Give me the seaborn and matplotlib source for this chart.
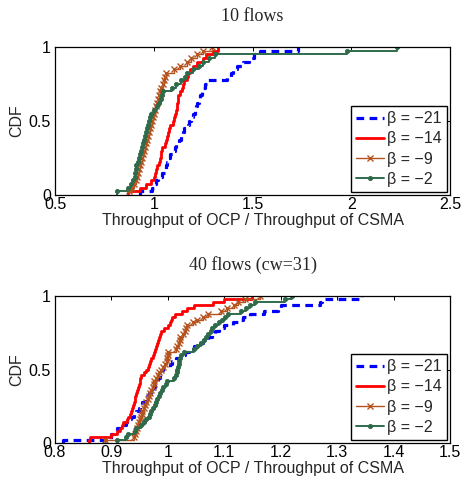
import numpy as np
import pandas as pd
import matplotlib
matplotlib.use("Agg")
import matplotlib.pyplot as plt
import seaborn as sns

# ---- throughput ratios (OCP / CSMA), one sample per run ----
labels = ["β = −21", "β = −14", "β = −9", "β = −2"]

flows10_b21 = [0.93, 0.99, 1.0, 1.01, 1.02, 1.04, 1.056, 1.06, 1.066, 1.074,
               1.082, 1.10, 1.11, 1.115, 1.128, 1.14, 1.146, 1.155, 1.172, 1.18,
               1.19, 1.198, 1.207, 1.213, 1.218, 1.228, 1.235, 1.242, 1.25, 1.257,
               1.27, 1.37, 1.39, 1.40, 1.42, 1.45, 1.48, 1.51, 1.54, 1.73]
flows10_b14 = [0.87, 0.93, 0.96, 0.985, 1.0, 1.008, 1.012, 1.015, 1.025, 1.031,
               1.036, 1.038, 1.04, 1.058, 1.062, 1.065, 1.07, 1.078, 1.083, 1.095,
               1.10, 1.106, 1.112, 1.118, 1.12, 1.122, 1.125, 1.132, 1.142, 1.148,
               1.155, 1.166, 1.175, 1.183, 1.20, 1.22, 1.25, 1.265, 1.30, 1.327]
flows10_b9 = [0.875, 0.89, 0.90, 0.91, 0.917, 0.922, 0.927, 0.932, 0.937, 0.942,
              0.947, 0.952, 0.957, 0.962, 0.966, 0.971, 0.976, 0.981, 0.986, 0.991,
              0.996, 1.001, 1.006, 1.01, 1.015, 1.02, 1.025, 1.03, 1.037, 1.045,
              1.052, 1.058, 1.064, 1.10, 1.135, 1.17, 1.19, 1.22, 1.25, 1.295]
flows10_b2 = [0.814, 0.869, 0.886, 0.895, 0.903, 0.907, 0.91, 0.912, 0.92, 0.927,
              0.932, 0.936, 0.94, 0.946, 0.95, 0.954, 0.96, 0.965, 0.97, 0.977,
              0.982, 0.988, 1.003, 1.018, 1.028, 1.036, 1.042, 1.047, 1.09, 1.115,
              1.138, 1.158, 1.17, 1.20, 1.23, 1.25, 1.28, 1.31, 1.976, 2.23]

flows40_b21 = [0.815, 0.90, 0.90, 0.905, 0.91, 0.92, 0.925, 0.928, 0.934, 0.94,
               0.943, 0.948, 0.951, 0.955, 0.959, 0.963, 0.967, 0.971, 0.975, 0.978,
               0.98, 0.983, 0.986, 0.988, 0.99, 0.992, 1.003, 1.008, 1.015, 1.022,
               1.03, 1.038, 1.046, 1.053, 1.062, 1.072, 1.078, 1.084, 1.09, 1.10,
               1.115, 1.125, 1.134, 1.146, 1.17, 1.195, 1.20, 1.27, 1.273, 1.344]
flows40_b14 = [0.861, 0.862, 0.90, 0.91, 0.915, 0.918, 0.921, 0.927, 0.93, 0.933,
               0.935, 0.936, 0.938, 0.94, 0.941, 0.942, 0.944, 0.945, 0.947, 0.949,
               0.95, 0.951, 0.953, 0.957, 0.961, 0.964, 0.966, 0.968, 0.971, 0.973,
               0.975, 0.977, 0.979, 0.981, 0.983, 0.985, 0.986, 0.988, 0.993, 1.001,
               1.004, 1.006, 1.008, 1.013, 1.025, 1.034, 1.046, 1.08, 1.10, 1.149]
flows40_b9 = [0.889, 0.94, 0.942, 0.944, 0.946, 0.947, 0.948, 0.95, 0.952, 0.954,
              0.955, 0.957, 0.959, 0.961, 0.964, 0.966, 0.969, 0.971, 0.973, 0.975,
              0.976, 0.979, 0.982, 0.985, 0.988, 0.992, 0.995, 0.998, 0.999, 1.0,
              1.001, 1.014, 1.017, 1.019, 1.021, 1.022, 1.027, 1.03, 1.032, 1.034,
              1.045, 1.051, 1.063, 1.072, 1.094, 1.104, 1.117, 1.125, 1.137, 1.164]
flows40_b2 = [0.909, 0.926, 0.93, 0.942, 0.944, 0.952, 0.957, 0.962, 0.966, 0.969,
              0.971, 0.974, 0.977, 0.979, 0.981, 0.984, 0.986, 0.989, 0.992, 0.996,
              0.998, 1.011, 1.014, 1.016, 1.017, 1.018, 1.019, 1.02, 1.021, 1.024,
              1.029, 1.046, 1.052, 1.058, 1.064, 1.068, 1.072, 1.076, 1.079, 1.084,
              1.09, 1.096, 1.101, 1.107, 1.13, 1.138, 1.145, 1.155, 1.208, 1.22]

titles = ["10 flows", "40 flows (cw=31)"]
xlabel = "Throughput of OCP / Throughput of CSMA"
ylabel = "CDF"
top_xticks = [0.5, 1, 1.5, 2, 2.5]
top_xticklabels = ["0.5", "1", "1.5", "2", "2.5"]
bot_xticks = [0.8, 0.9, 1.0, 1.1, 1.2, 1.3, 1.4, 1.5]
bot_xticklabels = ["0.8", "0.9", "1", "1.1", "1.2", "1.3", "1.4", "1.5"]
yticks = [0, 0.5, 1]
yticklabels = ["0", "0.5", "1"]

# ---- styling ----
sns.set_style("white")
plt.rcParams["font.family"] = ["Liberation Sans", "DejaVu Sans"]

styles = [
    dict(color="#0000FF", lw=2.3, ls=(0, (2.4, 1.7)), marker=None),
    dict(color="#FF0000", lw=2.0, ls="-", marker=None),
    dict(color="#B5531F", lw=1.0, ls="-", marker="x", ms=4.0, mew=1.0),
    dict(color="#2F6B4B", lw=1.4, ls="-", marker="o", ms=3.0, mew=0.6),
]

fig = plt.figure(figsize=(4.61, 4.82), dpi=100)
ax_top = fig.add_axes([55 / 461, 1 - 195 / 482, 395 / 461, 148 / 482])
ax_bot = fig.add_axes([55 / 461, 1 - 443 / 482, 395 / 461, 147 / 482])

panels = [
    (ax_top, [flows10_b21, flows10_b14, flows10_b9, flows10_b2],
     (0.5, 2.5), top_xticks, top_xticklabels, titles[0]),
    (ax_bot, [flows40_b21, flows40_b14, flows40_b9, flows40_b2],
     (0.8, 1.5), bot_xticks, bot_xticklabels, titles[1]),
]

for ax, series, xlim, xt, xtl, title in panels:
    for vals, lab, st in zip(series, labels, styles):
        kw = dict(color=st["color"], lw=st["lw"], ls=st["ls"], label=lab)
        if st["marker"]:
            kw.update(marker=st["marker"], ms=st["ms"], mew=st["mew"])
        sns.ecdfplot(x=np.array(vals), ax=ax, **kw)
    ax.set_xlim(*xlim)
    ax.set_ylim(0, 1)
    ax.set_xticks(xt)
    ax.set_xticklabels(xtl)
    ax.set_yticks(yticks)
    ax.set_yticklabels(yticklabels)
    ax.tick_params(direction="in", length=3, width=0.7, top=True, right=True,
                   labelsize=11.5, pad=1.5, colors="black")
    ax.tick_params(axis="y", pad=3)
    for sp in ax.spines.values():
        sp.set_visible(True)
        sp.set_color("black")
        sp.set_linewidth(0.9)
        sp.set_zorder(3)
    ax.set_xlabel(xlabel, fontsize=11.5, labelpad=0.5)
    ax.set_ylabel(ylabel, fontsize=11.5, labelpad=3)
    ax.set_title(title, fontsize=13, family=["Liberation Serif", "DejaVu Serif"], pad=19)
    leg = ax.legend(loc="lower right", fontsize=11.5, frameon=True, fancybox=False,
                    edgecolor="black", framealpha=1, borderaxespad=0.2,
                    handlelength=1.75, handletextpad=0.2, labelspacing=0.33,
                    borderpad=0.3)
    leg.get_frame().set_linewidth(1.0)

fig.savefig("out.png", dpi=100, facecolor="white")
